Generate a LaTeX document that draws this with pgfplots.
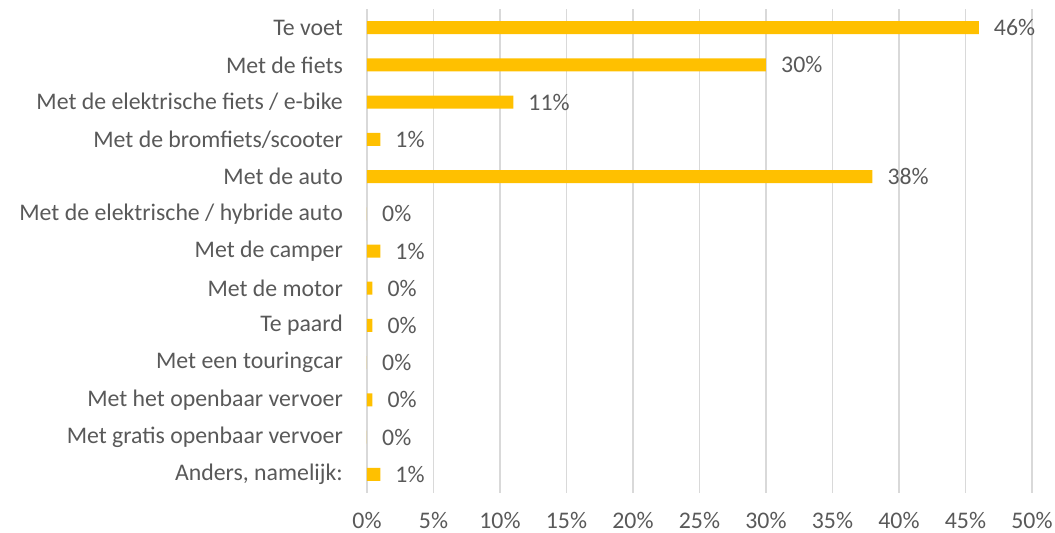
\documentclass[border=0pt]{standalone}
\usepackage{pgfplots}
\pgfplotsset{compat=1.18}
\usepackage{pgfplotstable}
\usepackage{fontspec}
\setmainfont{Carlito}
\definecolor{barc}{HTML}{FFC000}
\definecolor{txt}{HTML}{595959}
\definecolor{grd}{HTML}{D9D9D9}
\pgfplotstableread[col sep=comma]{
y,x,lab
0,46,46\%
1,30,30\%
2,11,11\%
3,1,1\%
4,38,38\%
5,0,0\%
6,1,1\%
7,0.4,0\%
8,0.4,0\%
9,0,0\%
10,0.4,0\%
11,0,0\%
12,1,1\%
}\datatable
\begin{document}
\begin{tikzpicture}
\useasboundingbox (-367bp,-40bp) rectangle (688bp,493bp);
\begin{axis}[
  at={(0,0)}, anchor=south west,
  scale only axis,
  width=665bp, height=484bp,
  xbar, bar width=13bp,
  xmin=0, xmax=50,
  ymin=-0.5, ymax=12.5,
  y dir=reverse,
  xtick={0,5,...,50},
  xticklabel={\pgfmathprintnumber{\tick}\%},
  ytick={0,...,12},
  yticklabels={Te voet,Met de fiets,Met de elektrische fiets / e-bike,Met de bromfiets/scooter,Met de auto,Met de elektrische / hybride auto,Met de camper,Met de motor,Te paard,Met een touringcar,Met het openbaar vervoer,Met gratis openbaar vervoer,{Anders, namelijk:}},
  axis line style={draw=none},
  major tick length=0pt,
  xmajorgrids, major grid style={grd, line width=1.3bp},
  tick label style={font=\fontsize{23.8bp}{26bp}\selectfont, text=txt},
  /pgf/number format/assume math mode=true,
  yticklabel style={anchor=east, inner sep=0pt, xshift=-24bp},
  xticklabel style={anchor=base, inner sep=0pt, yshift=-35bp},
  nodes near coords,
  point meta=explicit symbolic,
  nodes near coords style={anchor=west, inner sep=0pt, xshift=15bp, font=\fontsize{23.8bp}{26bp}\selectfont, text=txt},
  clip=false,
]
\addplot[fill=barc, draw=none] table[x=x, y=y, meta=lab, col sep=comma] {\datatable};
\end{axis}
\end{tikzpicture}
\end{document}
